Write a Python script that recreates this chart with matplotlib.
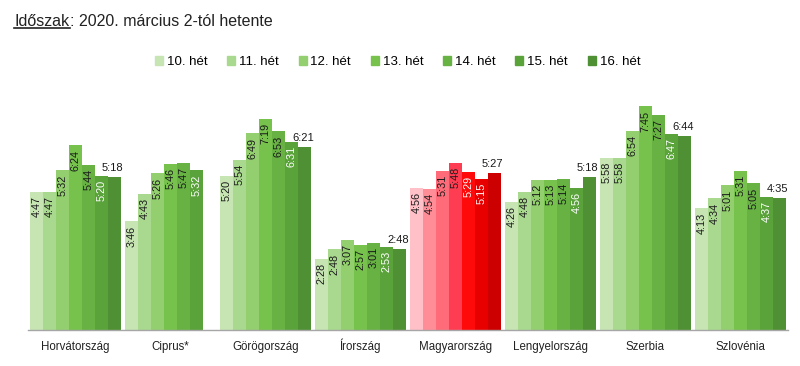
import matplotlib
matplotlib.use("Agg")
import matplotlib.pyplot as plt
import numpy as np

plt.rcParams['font.family'] = ['Liberation Sans', 'DejaVu Sans']

countries = ['Horvátország', 'Ciprus*', 'Görögország', 'Írország',
             'Magyarország', 'Lengyelország', 'Szerbia', 'Szlovénia']
weeks = ['10. hét', '11. hét', '12. hét', '13. hét', '14. hét', '15. hét', '16. hét']

# napi idő óra:perc formában, hetenként (None = nincs adat)
times = {
    'Horvátország':  ['4:47', '4:47', '5:32', '6:24', '5:44', '5:20', '5:18'],
    'Ciprus*':       ['3:46', '4:43', '5:26', '5:46', '5:47', '5:32', None],
    'Görögország':   ['5:20', '5:54', '6:49', '7:19', '6:53', '6:31', '6:21'],
    'Írország':      ['2:28', '2:48', '3:07', '2:57', '3:01', '2:53', '2:48'],
    'Magyarország':  ['4:56', '4:54', '5:31', '5:48', '5:29', '5:15', '5:27'],
    'Lengyelország': ['4:26', '4:48', '5:12', '5:13', '5:14', '4:56', '5:18'],
    'Szerbia':       ['5:58', '5:58', '6:54', '7:45', '7:27', '6:47', '6:44'],
    'Szlovénia':     ['4:13', '4:34', '5:01', '5:31', '5:05', '4:37', '4:35'],
}

greens = ['#c6e5b3', '#a9d98e', '#93cf6f', '#76c24c', '#67b243', '#5aa33b', '#4e9033']
reds = ['#ffc0c8', '#ff8d98', '#ff6b78', '#ff3d52', '#ff0a0a', '#e80000', '#cc0000']


def to_hours(s):
    if s is None:
        return np.nan
    h, m = s.split(':')
    return int(h) + int(m) / 60


fig = plt.figure(figsize=(8, 3.66), dpi=100)
ax = fig.add_axes([0.035, 0.098, 0.95, 0.631])

n = len(weeks)
w = 0.95 / n
x = np.arange(len(countries))

for ci, c in enumerate(countries):
    pal = reds if c == 'Magyarország' else greens
    for wi in range(n):
        s = times[c][wi]
        v = to_hours(s)
        if np.isnan(v):
            continue
        xp = ci - 0.475 + w * (wi + 0.5)
        ax.bar(xp, v, width=w, color=pal[wi], linewidth=0)
        if wi == n - 1:
            ax.annotate(s, (xp, v), xytext=(-1, 3), textcoords='offset points',
                        ha='center', va='bottom', fontsize=8, color='#1a1a1a')
        else:
            white = (wi == 5) or (c == 'Magyarország' and wi == 4)
            ax.annotate(s, (xp, v), xytext=(0, -3), textcoords='offset points',
                        ha='center', va='top', rotation=90, fontsize=7.8,
                        color='white' if white else '#1a1a1a')

ax.set_xlim(-0.5, len(countries) - 0.5)
ax.set_ylim(0, 8)
ax.set_xticks([])
ax.set_yticks([])
# kategórianevek alapvonalra igazítva (az ékezetes Í miatt)
for ci, c in enumerate(countries):
    ax.text(ci, -0.085, c, transform=ax.get_xaxis_transform(), ha='center',
            va='baseline', fontsize=8.3, color='#222222')
for sp in ['top', 'right', 'left']:
    ax.spines[sp].set_visible(False)
ax.spines['bottom'].set_color('#a6a6a6')
ax.spines['bottom'].set_linewidth(1)

# legenda
handles = [plt.Rectangle((0, 0), 1, 1, color=greens[i]) for i in range(n)]
fig.legend(handles, weeks, loc='center', bbox_to_anchor=(0.497, 0.83), ncol=n,
           frameon=False, fontsize=9.5, handlelength=0.6, handleheight=0.6,
           handletextpad=0.3, columnspacing=1.5)

# cím, aláhúzott "Időszak" résszel
t1 = fig.text(0.018, 0.942, 'Időszak', fontsize=11.5, ha='left', va='center',
              color='#222222')
fig.canvas.draw()
bb = t1.get_window_extent()
inv = fig.transFigure.inverted()
x0, y0 = inv.transform((bb.x0, bb.y0))
x1, _ = inv.transform((bb.x1, bb.y0))
fig.add_artist(plt.Line2D([x0, x1], [y0 + 0.003, y0 + 0.003], transform=fig.transFigure,
                          color='#222222', linewidth=1.2))
fig.text(x1, 0.942, ': 2020. március 2-tól hetente', fontsize=11.5, ha='left',
         va='center', color='#222222')

fig.savefig('out.png', dpi=100)
